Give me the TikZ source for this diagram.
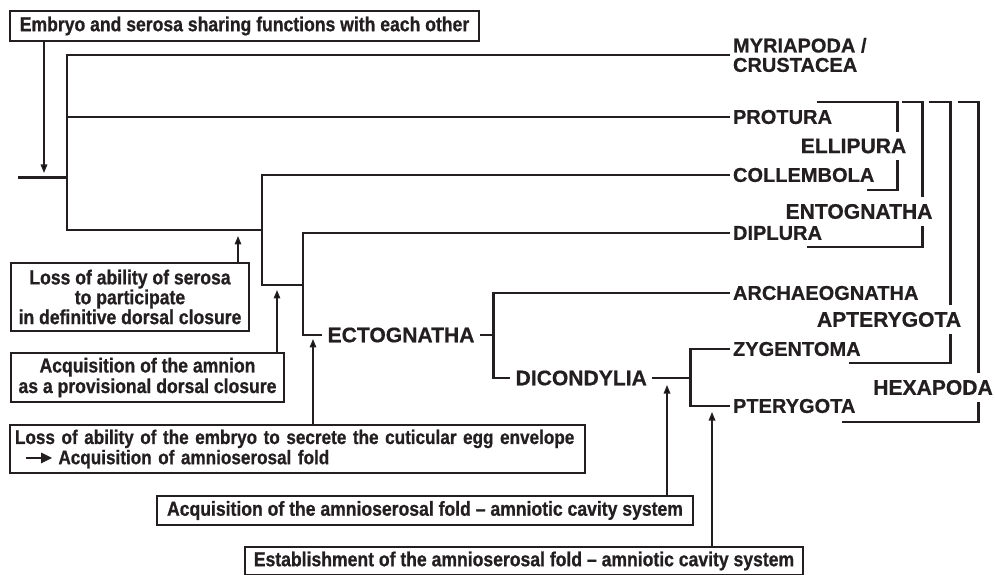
\documentclass[tikz,border=0pt]{standalone}
\usepackage{fontspec}
\setmainfont{Liberation Sans}[BoldFeatures={FakeBold=0.6}]
\newfontfamily\narrowfont{Liberation Sans}[FakeStretch=0.87, BoldFeatures={FakeBold=0.8}]
\usetikzlibrary{arrows.meta}
\definecolor{ink}{RGB}{35,31,32}

\begin{document}
\begin{tikzpicture}[
        line join=miter,
        branch/.style={line width=1.7pt, draw=ink},
        taxon/.style={anchor=west, inner sep=1.5pt, align=left, text=ink, font=\bfseries\fontsize{11.4}{11}\selectfont},
        clade/.style={anchor=west, inner sep=3pt, text=ink, font=\bfseries\fontsize{12}{13}\selectfont},
        group/.style={fill=white, inner xsep=1pt, inner ysep=4pt, text=ink, font=\bfseries\fontsize{12}{13}\selectfont},
        event/.style={draw=ink, line width=0.6pt, inner sep=0pt, align=center, text=ink, font=\narrowfont\bfseries\fontsize{11.5}{10.5}\selectfont},
        arrow/.style={-{Triangle[length=1.7mm,width=1.3mm]}, line width=0.9pt, draw=ink}
    ]
        \useasboundingbox (0,0) rectangle (19.9,-11.5);

        \node[taxon] (Myria) at (14.6,-1.10) {MYRIAPODA /\\CRUSTACEA};
        \node[taxon] (Protura) at (14.6,-2.34) {PROTURA};
        \node[taxon] (Collembola) at (14.6,-3.50) {COLLEMBOLA};
        \node[taxon] (Diplura) at (14.6,-4.66) {DIPLURA};
        \node[taxon] (Archaeo) at (14.6,-5.86) {ARCHAEOGNATHA};
        \node[taxon] (Zygent) at (14.6,-6.98) {ZYGENTOMA};
        \node[taxon] (Ptery) at (14.6,-8.12) {PTERYGOTA};
        \node[clade] (Ecto) at (6.44,-6.70) {ECTOGNATHA};
        \node[clade] (Dicond) at (10.2,-7.56) {DICONDYLIA};

        \coordinate (Root) at (0.36,-3.55);
        \coordinate (N1) at (1.34,-3.55);
        \coordinate (N2) at (5.24,-4.60);
        \coordinate (N3) at (6.06,-5.70);
        \coordinate (N4) at (9.86,-6.70);
        \coordinate (N5) at (13.8,-7.56);

        \draw[branch] (Root) -- (N1);
        \draw[branch] (N1) |- (Myria.west);
        \draw[branch] (N1) |- (Protura.west);
        \draw[branch] (N1) |- (N2);
        \draw[branch] (N2) |- (Collembola.west);
        \draw[branch] (N2) |- (N3);
        \draw[branch] (N3) |- (Diplura.west);
        \draw[branch] (N3) |- (Ecto.west);
        \draw[branch] (Ecto.east) -- (N4);
        \draw[branch] (N4) |- (Archaeo.west);
        \draw[branch] (N4) |- (Dicond.west);
        \draw[branch] (Dicond.east) -- (N5);
        \draw[branch] (N5) |- (Zygent.west);
        \draw[branch] (N5) |- (Ptery.west);

        \draw[branch] (16.34,-2.04) -- (17.94,-2.04) -- (17.94,-3.80) -- (17.34,-3.80);
        \draw[branch] (18.04,-2.04) -- (18.44,-2.04) -- (18.44,-4.94) -- (16.14,-4.94);
        \draw[branch] (18.58,-2.04) -- (19.00,-2.04) -- (19.00,-7.26) -- (16.98,-7.26);
        \draw[branch] (19.16,-2.04) -- (19.56,-2.04) -- (19.56,-8.44) -- (16.84,-8.44);
        \node[group] (Ellipura) at (17.07,-2.92) {ELLIPURA};
        \node[group] (Entognatha) at (17.18,-4.23) {ENTOGNATHA};
        \node[group] (Apterygota) at (17.78,-6.39) {APTERYGOTA};
        \node[group] (Hexapoda) at (18.66,-7.75) {HEXAPODA};

        \node[event, minimum width=9.38cm, minimum height=0.6cm] (Sharing) at (4.89,-0.52) {Embryo and serosa sharing functions with each other};
        \node[event, minimum width=4.76cm, minimum height=1.36cm, font=\narrowfont\bfseries\fontsize{11.5}{11.3}\selectfont] (Serosa) at (2.60,-5.94) {Loss of ability of serosa\\to participate\\in definitive dorsal closure};
        \node[event, minimum width=5.46cm, minimum height=0.98cm] (Amnion) at (2.95,-7.55) {Acquisition of the amnion\\as a provisional dorsal closure};
        \node[event, align=left, text width=11.3cm, inner xsep=0.1cm, minimum height=0.96cm, font=\narrowfont\bfseries\fontsize{11.2}{9.8}\selectfont] (Envelope) at (5.95,-8.98) {\mbox{Loss of ability of the embryo to secrete the cuticular egg envelope}\\\hspace*{0.2cm}\tikz[baseline=-0.6ex]\draw[line width=1.4pt, -{Triangle[length=2.2mm,width=2mm]}] (0,0) -- (0.52,0);\hspace{0.1cm}Acquisition of amnioserosal fold};
        \node[event, minimum width=10.72cm, minimum height=0.58cm] (Cavity) at (8.50,-10.21) {Acquisition of the amnioserosal fold – amniotic cavity system};
        \node[event, minimum width=11.16cm, minimum height=0.56cm] (Establish) at (10.48,-11.22) {Establishment of the amnioserosal fold – amniotic cavity system};

        \coordinate (E1) at (0.88,-3.46);
        \coordinate (E2) at (4.76,-4.72);
        \coordinate (E3) at (5.54,-5.80);
        \coordinate (E4) at (6.26,-6.78);
        \coordinate (E5) at (13.34,-7.70);
        \coordinate (E6) at (14.24,-8.24);
        \draw[arrow] (E1 |- Sharing.south) -- (E1);
        \draw[arrow] (E2 |- Serosa.north) -- (E2);
        \draw[arrow] (E3 |- Amnion.north) -- (E3);
        \draw[arrow] (E4 |- Envelope.north) -- (E4);
        \draw[arrow] (E5 |- Cavity.north) -- (E5);
        \draw[arrow] (E6 |- Establish.north) -- (E6);
    \end{tikzpicture}
\end{document}
